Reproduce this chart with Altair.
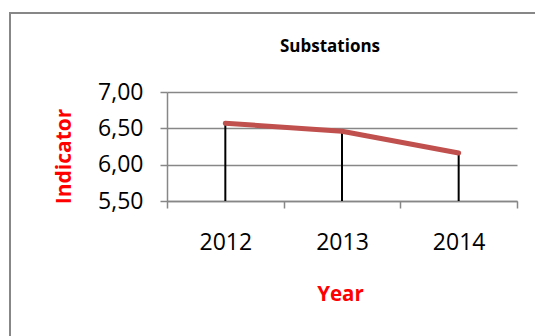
import altair as alt
import pandas as pd

# Substation indicator by year
years = ["2012", "2013", "2014"]
indicator = [6.57, 6.46, 6.16]

df = pd.DataFrame({"Year": years, "Indicator": indicator})

FONT = "Open Sans"
GREY = "#878787"

x_enc = alt.X(
    "Year:N",
    bandPosition=0.5,
    scale=alt.Scale(type="band", paddingInner=0, paddingOuter=0),
    axis=alt.Axis(
        title="Year",
        titleColor="#ff0000",
        titleFont=FONT,
        titleFontSize=20.5,
        titleFontWeight="bold",
        titleX=173,
        titleY=99,
        titleBaseline="alphabetic",
        labelFont=FONT,
        labelFontSize=23,
        labelColor="#000000",
        labelAngle=0,
        labelBaseline="alphabetic",
        labelPadding=41,
        tickBand="extent",
        tickSize=7,
        tickColor=GREY,
        tickWidth=1.5,
        domainColor=GREY,
        domainWidth=1.5,
        grid=False,
    ),
)

y_enc = alt.Y(
    "Indicator:Q",
    scale=alt.Scale(domain=[5.5, 7.0], nice=False, zero=False),
    axis=alt.Axis(
        title="Indicator",
        titleColor="#ff0000",
        titleFont=FONT,
        titleFontSize=21,
        titleFontWeight="bold",
        titleAngle=270,
        titleX=-97,
        titleY=64,
        titleAlign="center",
        titleBaseline="alphabetic",
        values=[5.5, 6.0, 6.5, 7.0],
        labelExpr="replace(format(datum.value, '.2f'), '.', ',')",
        labelFont=FONT,
        labelFontSize=23,
        labelColor="#000000",
        labelPadding=17,
        tickSize=7,
        tickColor=GREY,
        tickWidth=1.5,
        domainColor=GREY,
        domainWidth=1.5,
        grid=True,
        gridColor=GREY,
        gridWidth=1.5,
    ),
)

# Outer chart frame
frame = alt.Chart(pd.DataFrame({"k": [0]})).mark_rect(
    fill=None, stroke=GREY, strokeWidth=2
).encode(
    x=alt.value(-157), y=alt.value(-79), x2=alt.value(600), y2=alt.value(400)
)

drops = alt.Chart(df).mark_rule(color="#000000", strokeWidth=2).encode(
    x=x_enc, y=y_enc, y2=alt.datum(5.5)
)

line = alt.Chart(df).mark_line(
    color="#C0504D", strokeWidth=5, strokeCap="round", strokeJoin="round"
).encode(x=x_enc, y=y_enc)

chart = (
    alt.layer(frame, drops, line)
    .properties(
        width=350,
        height=109,
        autosize=alt.AutoSizeParams(type="none"),
        padding={"left": 167, "top": 92, "right": 18, "bottom": 135},
        title=alt.TitleParams(
            "Substations",
            font=FONT,
            fontSize=17,
            fontWeight="bold",
            color="#000000",
            anchor="middle",
            baseline="alphabetic",
            dx=-12,
            offset=-57,
        ),
    )
    .configure_view(stroke=None)
)

chart.save("out.html", embed_options={"renderer": "svg", "actions": False})
